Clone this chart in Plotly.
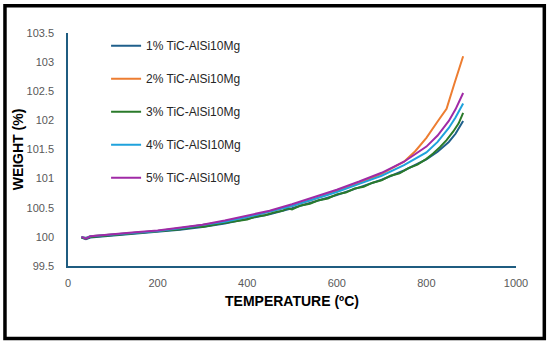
import plotly.graph_objects as go

# ---- data ----
temp_common = [30, 40, 50, 100, 150, 200, 250, 300, 350, 400, 450, 500, 550, 600,
               650, 700, 750, 800, 825, 850, 865, 882]
w_1pct = [99.99, 99.96, 99.99, 100.02, 100.05, 100.08, 100.12, 100.17, 100.23, 100.31,
          100.39, 100.49, 100.60, 100.72, 100.85, 100.98, 101.14, 101.33, 101.46, 101.63,
          101.77, 101.99]
w_4pct = [100.00, 99.98, 100.01, 100.04, 100.07, 100.10, 100.15, 100.20, 100.26, 100.34,
          100.43, 100.53, 100.65, 100.77, 100.91, 101.05, 101.23, 101.45, 101.63, 101.87,
          102.05, 102.29]
w_5pct = [100.00, 99.97, 100.01, 100.05, 100.08, 100.11, 100.16, 100.21, 100.28, 100.36,
          100.45, 100.56, 100.68, 100.81, 100.95, 101.10, 101.29, 101.55, 101.74, 101.99,
          102.19, 102.47]

temp_2pct = [30, 40, 50, 100, 150, 200, 250, 300, 350, 400, 450, 500, 550, 600,
             650, 700, 750, 775, 800, 825, 845, 862, 882]
w_2pct = [100.00, 99.98, 100.01, 100.04, 100.07, 100.10, 100.15, 100.20, 100.26, 100.34,
          100.43, 100.53, 100.65, 100.78, 100.92, 101.08, 101.29, 101.47, 101.70, 101.98,
          102.20, 102.62, 103.10]

temp_3pct = [30, 40, 50, 100, 150, 200, 250, 290, 300, 340, 360, 380, 400, 420, 440, 460,
             480, 490, 500, 520, 540, 560, 580, 600, 620, 640, 660, 680, 700, 720, 740,
             760, 780, 800, 815, 830, 845, 860, 872, 882]
w_3pct = [99.99, 99.97, 100.00, 100.03, 100.06, 100.09, 100.13, 100.18, 100.17, 100.23,
          100.25, 100.28, 100.30, 100.35, 100.37, 100.42, 100.45, 100.49, 100.47, 100.54,
          100.57, 100.63, 100.66, 100.73, 100.76, 100.83, 100.86, 100.93, 100.97, 101.05,
          101.09, 101.18, 101.24, 101.34, 101.43, 101.54, 101.66, 101.81, 101.95, 102.13]

series_names = ["1% TiC-AlSi10Mg", "2% TiC-AlSi10Mg", "3% TiC-AlSi10Mg",
                "4% TiC-AlSI10Mg", "5% TiC-AlSi10Mg"]
series_x = [temp_common, temp_2pct, temp_3pct, temp_common, temp_common]
series_y = [w_1pct, w_2pct, w_3pct, w_4pct, w_5pct]
colors = ["#1F5F8B", "#ED7D31", "#2A7A2A", "#1FA2DC", "#A02AA6"]

x_ticks = [0, 200, 400, 600, 800, 1000]
y_ticks = [99.5, 100, 100.5, 101, 101.5, 102, 102.5, 103, 103.5]

fig = go.Figure()
for name, xs, ys, c in zip(series_names, series_x, series_y, colors):
    fig.add_trace(go.Scatter(x=xs, y=ys, mode="lines", name=name, legendgroup=name,
                             line=dict(color=c, width=2)))

axis_color = "#1F5C80"
tick_font = dict(family="Liberation Sans, Arial, sans-serif", size=11, color="#595959")
title_font = dict(family="Liberation Sans, Arial, sans-serif", size=14, color="#000000")

fig.update_layout(
    width=550, height=346,
    margin=dict(l=68, r=34, t=33, b=80),
    paper_bgcolor="white", plot_bgcolor="white",
    showlegend=True,
    legend=dict(x=0.085, y=1.008, xanchor="left", yanchor="top",
                bgcolor="rgba(0,0,0,0)", tracegroupgap=14, itemwidth=30,
                font=dict(family="Liberation Sans, Arial, sans-serif", size=12, color="#262626")),
    xaxis=dict(range=[0, 1000], tickvals=x_ticks, showgrid=False, zeroline=False,
               showline=True, linecolor=axis_color, linewidth=1.5, ticks="",
               tickfont=tick_font, ticklabelstandoff=6,
               title=dict(text="<b>TEMPERATURE (ºC)</b>", font=title_font, standoff=8)),
    yaxis=dict(range=[99.5, 103.5], tickvals=y_ticks, showgrid=False, zeroline=False,
               showline=True, linecolor=axis_color, linewidth=1.5, ticks="",
               tickfont=tick_font, ticklabelstandoff=10,
               title=dict(text="<b>WEIGHT (%)</b>", font=title_font, standoff=0)),
    shapes=[dict(type="rect", xref="paper", yref="paper",
                 x0=-0.1407, x1=1.0632, y0=-0.311, y1=1.117,
                 line=dict(color="black", width=3.5), fillcolor="rgba(0,0,0,0)",
                 layer="above")],
)

fig.write_html("out.html", config={"displayModeBar": False},
               post_script="document.body.style.margin='0px';document.body.style.padding='0px';")
